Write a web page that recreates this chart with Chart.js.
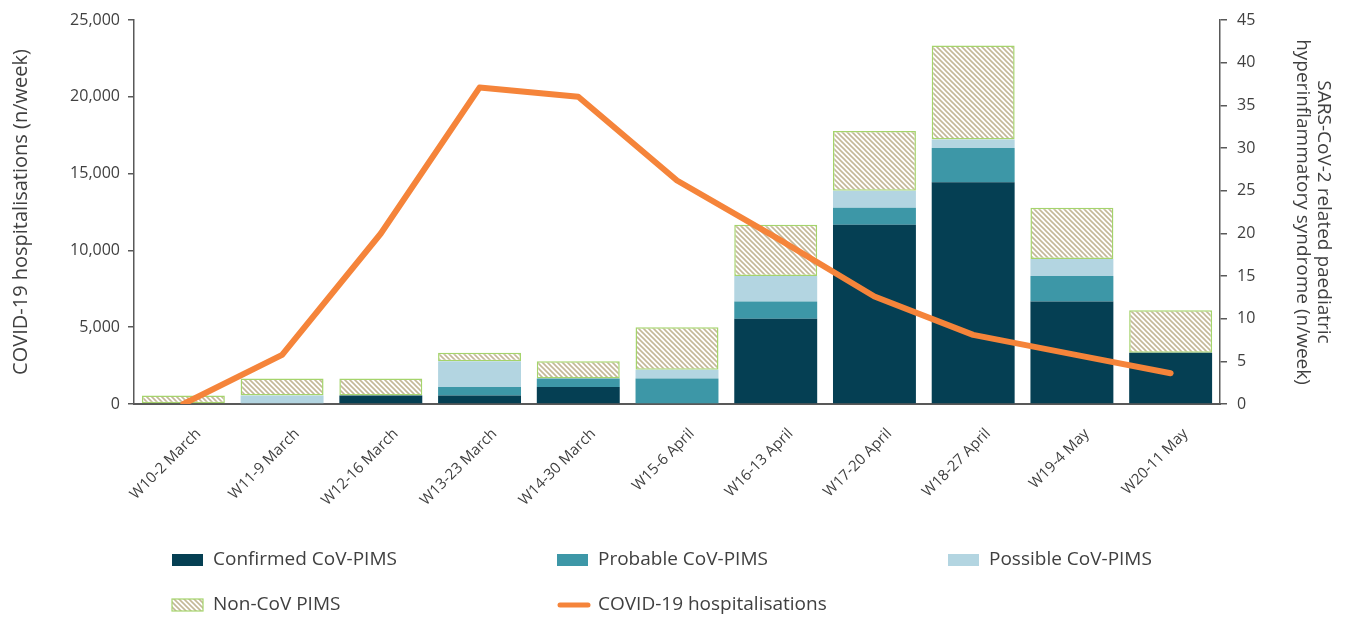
<!DOCTYPE html>
<html>
<head>
<meta charset="utf-8">
<title>CoV-PIMS and COVID-19 hospitalisations</title>
<script src="https://cdn.jsdelivr.net/npm/chart.js@4.4.1/dist/chart.umd.min.js"></script>
<style>
  html, body { margin: 0; padding: 0; background: #fff; }
  #wrap { position: relative; width: 1349px; height: 619px; }
</style>
</head>
<body>
<div id="wrap"><canvas id="chart"></canvas></div>
<script>
// week labels
const weeks = ['W10-2 March', 'W11-9 March', 'W12-16 March', 'W13-23 March', 'W14-30 March',
    'W15-6 April', 'W16-13 April', 'W17-20 April', 'W18-27 April', 'W19-4 May', 'W20-11 May'];

// PIMS cases per week (right axis)
const confirmed = [0, 0, 1, 1, 2, 0, 10, 21, 26, 12, 6];
const probable  = [0, 0, 0, 1, 1, 3, 2, 2, 4, 3, 0];
const possible  = [0, 1, 0, 3, 0, 1, 3, 2, 1, 2, 0];
const nonCov    = [1, 2, 2, 1, 2, 5, 6, 7, 11, 6, 5];

// COVID-19 hospitalisations per week (left axis)
const hospitalisations = [0, 3200, 11100, 20600, 20000, 14550, 10850, 7000, 4500, 3250, 2000];

const textColor = '#404040';
const axisColor = '#595959';

Chart.defaults.font.family = "'Open Sans', sans-serif";
Chart.defaults.color = textColor;

// diagonal hatch for the Non-CoV PIMS bars
function makeHatch() {
    const s = 5;
    const c = document.createElement('canvas');
    c.width = s; c.height = s;
    const g = c.getContext('2d');
    g.fillStyle = '#ffffff';
    g.fillRect(0, 0, s, s);
    g.strokeStyle = '#c4b898';
    g.lineWidth = 1.6;
    g.beginPath();
    g.moveTo(-1, -1); g.lineTo(s + 1, s + 1);
    g.moveTo(-1, s - 1); g.lineTo(1, s + 1);
    g.moveTo(s - 1, -1); g.lineTo(s + 1, 1);
    g.stroke();
    return g.createPattern(c, 'repeat');
}
const hatch = makeHatch();

// legend drawn as a 3-column grid under the chart
const gridLegend = {
    id: 'gridLegend',
    afterDraw(chart, args, opts) {
        const ctx = chart.ctx;
        ctx.save();
        ctx.font = opts.fontSize + "px 'Open Sans', sans-serif";
        ctx.textBaseline = 'middle';
        ctx.textAlign = 'left';
        opts.order.forEach((dsIndex, i) => {
            const ds = chart.data.datasets[dsIndex];
            const x = opts.columns[i % opts.columns.length];
            const y = opts.rows[Math.floor(i / opts.columns.length)];
            if (ds.type === 'line') {
                ctx.strokeStyle = ds.borderColor;
                ctx.lineWidth = 5;
                ctx.lineCap = 'round';
                ctx.beginPath();
                ctx.moveTo(x + 3, y);
                ctx.lineTo(x + 31, y);
                ctx.stroke();
            } else {
                ctx.fillStyle = ds.backgroundColor;
                ctx.fillRect(x, y - 6, 31, 12);
                if (ds.borderWidth) {
                    ctx.strokeStyle = ds.borderColor;
                    ctx.lineWidth = 1.2;
                    ctx.strokeRect(x, y - 6, 31, 12);
                }
            }
            ctx.fillStyle = textColor;
            ctx.fillText(ds.label, x + 41, y);
        });
        ctx.restore();
    }
};

const ctx = document.getElementById('chart').getContext('2d');
const chart = new Chart(ctx, {
    data: {
        labels: weeks,
        datasets: [
            {
                type: 'line',
                label: 'COVID-19 hospitalisations',
                data: hospitalisations,
                yAxisID: 'y',
                borderColor: '#f5843a',
                borderWidth: 6,
                borderCapStyle: 'round',
                borderJoinStyle: 'round',
                pointRadius: 0,
                tension: 0,
                order: 0
            },
            {
                type: 'bar',
                label: 'Confirmed CoV-PIMS',
                data: confirmed,
                yAxisID: 'y1',
                stack: 'pims',
                backgroundColor: '#053f53',
                borderWidth: 0,
                order: 1
            },
            {
                type: 'bar',
                label: 'Probable CoV-PIMS',
                data: probable,
                yAxisID: 'y1',
                stack: 'pims',
                backgroundColor: '#3d97a7',
                borderWidth: 0,
                order: 1
            },
            {
                type: 'bar',
                label: 'Possible CoV-PIMS',
                data: possible,
                yAxisID: 'y1',
                stack: 'pims',
                backgroundColor: '#b3d5e1',
                borderWidth: 0,
                order: 1
            },
            {
                type: 'bar',
                label: 'Non-CoV PIMS',
                data: nonCov,
                yAxisID: 'y1',
                stack: 'pims',
                backgroundColor: hatch,
                borderColor: '#a5d46c',
                borderWidth: 1.5,
                borderSkipped: false,
                order: 1
            }
        ]
    },
    options: {
        responsive: true,
        maintainAspectRatio: false,
        animation: false,
        layout: {
            padding: { top: 20, left: 0, right: 0, bottom: 0 }
        },
        datasets: {
            bar: {
                categoryPercentage: 0.84,
                barPercentage: 1.0
            }
        },
        scales: {
            x: {
                grid: { display: false, drawTicks: false },
                border: { display: true, color: axisColor, width: 2 },
                ticks: {
                    autoSkip: false,
                    maxRotation: 45,
                    minRotation: 45,
                    padding: 21,
                    labelOffset: 15,
                    font: { size: 15 }
                },
                afterFit(scale) { scale.height = 215; }
            },
            y: {
                position: 'left',
                min: 0,
                max: 25000,
                ticks: {
                    stepSize: 5000,
                    padding: 8,
                    font: { size: 16 },
                    callback: v => v.toLocaleString('en-US')
                },
                grid: { drawOnChartArea: false, tickLength: 6, color: axisColor, lineWidth: 1.5 },
                border: { display: true, color: axisColor, width: 1.5 },
                title: {
                    display: true,
                    text: 'COVID-19 hospitalisations (n/week)',
                    font: { size: 20 },
                    padding: { top: 9, bottom: 0 }
                },
                afterFit(scale) { scale.width = 134; }
            },
            y1: {
                position: 'right',
                min: 0,
                max: 45,
                ticks: {
                    stepSize: 5,
                    padding: 10,
                    font: { size: 16 }
                },
                grid: { drawOnChartArea: false, tickLength: 7, color: axisColor, lineWidth: 1.5 },
                border: { display: true, color: axisColor, width: 1.5 },
                title: {
                    display: true,
                    text: ['SARS-CoV-2 related paediatric', 'hyperinflammatory syndrome (n/week)'],
                    font: { size: 19, lineHeight: 1.1 },
                    padding: { top: 15, bottom: 0 }
                },
                afterFit(scale) { scale.width = 129; }
            }
        },
        plugins: {
            legend: { display: false },
            tooltip: { enabled: false },
            gridLegend: {
                order: [1, 2, 3, 4, 0],
                columns: [172, 557, 948],
                rows: [560, 605],
                fontSize: 19
            }
        }
    },
    plugins: [gridLegend]
});
</script>
</body>
</html>
